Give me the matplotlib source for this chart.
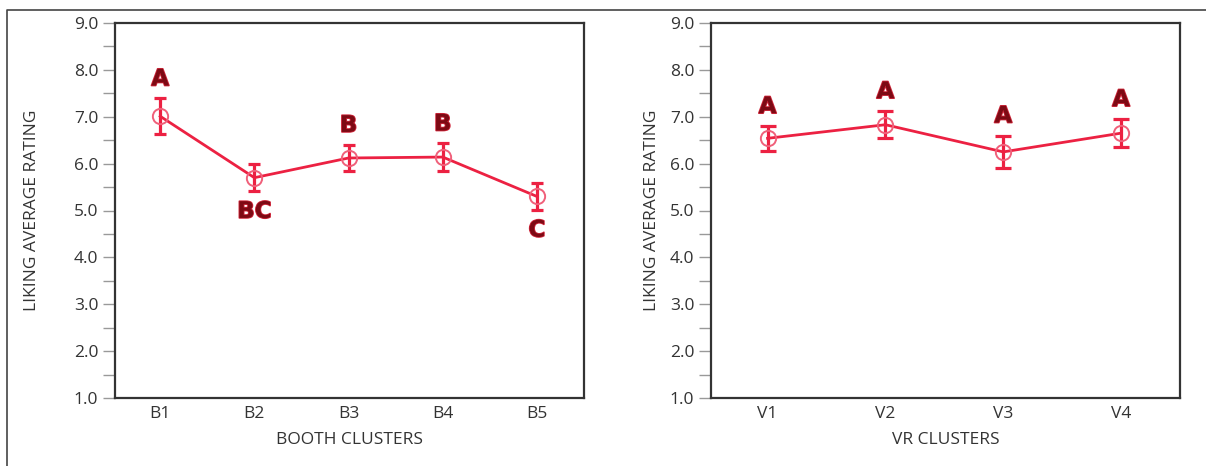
import matplotlib
matplotlib.use("Agg")
import matplotlib.pyplot as plt
import matplotlib.patheffects as pe
from matplotlib.lines import Line2D
from matplotlib.ticker import MultipleLocator, FormatStrFormatter

# ---- data ----
booth_clusters = ["B1", "B2", "B3", "B4", "B5"]
booth_means = [7.01, 5.70, 6.12, 6.14, 5.30]
booth_err = [0.38, 0.29, 0.28, 0.29, 0.29]
booth_letters = ["A", "BC", "B", "B", "C"]
booth_letter_side = ["above", "below", "above", "above", "below"]

vr_clusters = ["V1", "V2", "V3", "V4"]
vr_means = [6.54, 6.83, 6.25, 6.65]
vr_err = [0.26, 0.29, 0.35, 0.30]
vr_letters = ["A", "A", "A", "A"]
vr_letter_side = ["above", "above", "above", "above"]

y_ticks = [1.0, 2.0, 3.0, 4.0, 5.0, 6.0, 7.0, 8.0, 9.0]

LINE_COLOR = "#ec2142"
MARKER_EDGE = "#f0607a"
LETTER_COLOR = "#7d0a14"
TEXT_COLOR = "#333333"
FS = 12.5

fig = plt.figure(figsize=(12.06, 4.66), dpi=100)
fig.patch.set_facecolor("white")

# outer frame (top and left edges)
fx = 7 / 1206
fy = 1 - 10 / 466
fig.add_artist(Line2D([fx, fx, 1.0], [0.0, fy, fy], transform=fig.transFigure,
                      color="#444444", lw=1.2))

ax1 = fig.add_axes([115 / 1206, 68 / 466, 469 / 1206, 375 / 466])
ax2 = fig.add_axes([711 / 1206, 68 / 466, 469 / 1206, 375 / 466])


def draw(ax, cats, means, errs, letters, sides, xlabel, capsize, ylabelpad):
    x = list(range(len(cats)))
    ax.plot(x, means, color=LINE_COLOR, lw=2.0, zorder=3)
    ax.errorbar(x, means, yerr=errs, fmt="none", ecolor=LINE_COLOR,
                elinewidth=2.3, capsize=capsize, capthick=2.3, zorder=4)
    ax.plot(x, means, linestyle="none", marker="o", markersize=11,
            markerfacecolor="none", markeredgecolor=MARKER_EDGE,
            markeredgewidth=1.4, zorder=5)
    for xi, m, e, lab, side in zip(x, means, errs, letters, sides):
        if side == "above":
            y = m + e
            off = 14
        else:
            y = m - e
            off = -14.5
        ax.annotate(lab, (xi, y), xytext=(0, off), textcoords="offset points",
                    ha="center", va="center", fontsize=16.5, fontweight="bold",
                    family="DejaVu Sans", color=LETTER_COLOR, zorder=6,
                    path_effects=[pe.withStroke(linewidth=1.2, foreground="#d0263a")])

    ax.set_xlim(-0.48, len(cats) - 0.5)
    ax.set_ylim(1.0, 9.0)
    ax.set_xticks(x)
    ax.set_xticklabels(cats)
    ax.set_yticks(y_ticks)
    ax.yaxis.set_major_formatter(FormatStrFormatter("%.1f"))
    ax.yaxis.set_minor_locator(MultipleLocator(0.5))
    ax.tick_params(axis="x", length=0, pad=6, labelsize=FS, labelcolor=TEXT_COLOR)
    ax.tick_params(axis="y", which="both", length=9, width=1.0, color="#999999",
                   pad=3, labelsize=FS, labelcolor=TEXT_COLOR)
    for lbl in ax.get_xticklabels() + ax.get_yticklabels():
        lbl.set_family("Open Sans")
    for s in ax.spines.values():
        s.set_color("#333333")
        s.set_linewidth(1.6)
    ax.set_xlabel(xlabel, fontsize=FS, family="Open Sans", color=TEXT_COLOR, labelpad=7)
    ax.set_ylabel("LIKING AVERAGE RATING", fontsize=FS, family="Open Sans",
                  color=TEXT_COLOR, labelpad=ylabelpad)


draw(ax1, booth_clusters, booth_means, booth_err, booth_letters, booth_letter_side,
     "BOOTH CLUSTERS", capsize=4.5, ylabelpad=24)
draw(ax2, vr_clusters, vr_means, vr_err, vr_letters, vr_letter_side, "VR CLUSTERS",
     capsize=6, ylabelpad=7)

fig.savefig("out.png", dpi=100)
